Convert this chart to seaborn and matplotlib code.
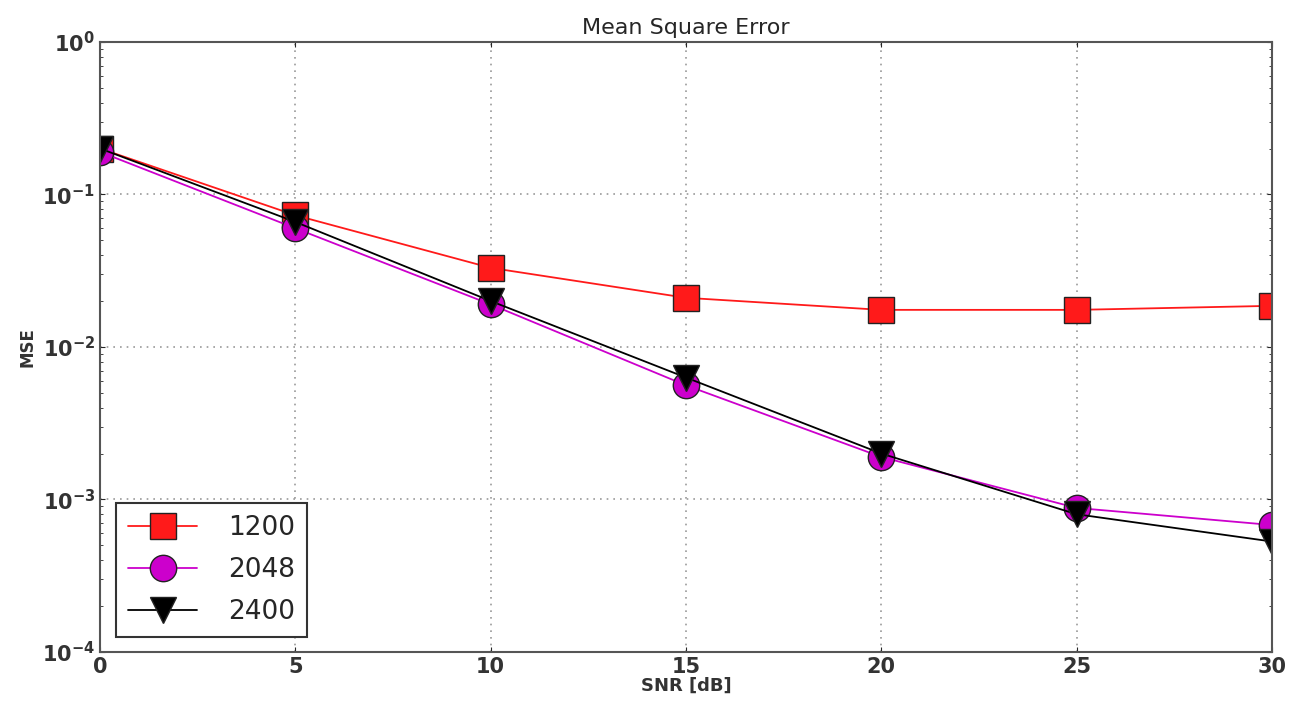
import matplotlib
matplotlib.use('Agg')
import matplotlib.pyplot as plt
import pandas as pd
import seaborn as sns

# SNR 轴和三组 MSE 数据
snr = [0, 5, 10, 15, 20, 25, 30]
mse_1200 = [0.20, 0.073, 0.033, 0.021, 0.0175, 0.0175, 0.0186]
mse_2048 = [0.19, 0.060, 0.019, 0.0056, 0.0019, 0.00088, 0.00068]
mse_2400 = [0.20, 0.066, 0.020, 0.0063, 0.0020, 0.00080, 0.00053]
labels = ['1200', '2048', '2400']


def main():
    df = pd.concat([
        pd.DataFrame({'snr': snr, 'mse': mse_1200, 'N': labels[0]}),
        pd.DataFrame({'snr': snr, 'mse': mse_2048, 'N': labels[1]}),
        pd.DataFrame({'snr': snr, 'mse': mse_2400, 'N': labels[2]}),
    ])

    sns.set_style('ticks')
    plt.rcParams['font.family'] = ['DejaVu Sans']

    fig = plt.figure(figsize=(12.94, 7.10), dpi=100)
    ax = fig.add_axes([0.0773, 0.0817, 0.9057, 0.8593])

    sns.lineplot(
        data=df, x='snr', y='mse', hue='N', style='N',
        palette={'1200': '#ff1a1a', '2048': '#cc00cc', '2400': 'black'},
        markers={'1200': 's', '2048': 'o', '2400': 'v'},
        dashes=False, markersize=19, markeredgecolor='#222222',
        markeredgewidth=1, linewidth=1.3, ax=ax,
    )

    ax.set_yscale('log')
    ax.set_ylim(1e-4, 1)
    ax.set_xlim(0, 30)
    ax.set_xticks([0, 5, 10, 15, 20, 25, 30])
    ax.grid(True, which='major', linestyle=(0, (1, 3)), color='#999999', linewidth=1.2)
    ax.tick_params(axis='both', which='both', labelsize=15, direction='in',
                   right=True, top=True)
    for lab in ax.get_xticklabels() + ax.get_yticklabels():
        lab.set_fontweight('bold')
        lab.set_color('#333333')
    for s in ax.spines.values():
        s.set_color('#555555')
        s.set_linewidth(1.5)

    ax.set_title('Mean Square Error', fontsize=16, pad=6)
    ax.set_xlabel('SNR [dB]', fontsize=13, labelpad=0, fontweight='bold', color='#333333')
    ax.set_ylabel('MSE', fontsize=12, fontweight='bold', color='#333333')

    leg = ax.legend(loc='lower left', fontsize=19, fancybox=False,
                    edgecolor='#333333', framealpha=1, markerscale=1.0,
                    handlelength=2.6, borderpad=0.45, labelspacing=0.62,
                    handletextpad=1.2, borderaxespad=0,
                    bbox_to_anchor=(0.014, 0.024))
    leg.get_frame().set_linewidth(1.5)

    fig.savefig('out.png', dpi=100)


if __name__ == '__main__':
    main()
